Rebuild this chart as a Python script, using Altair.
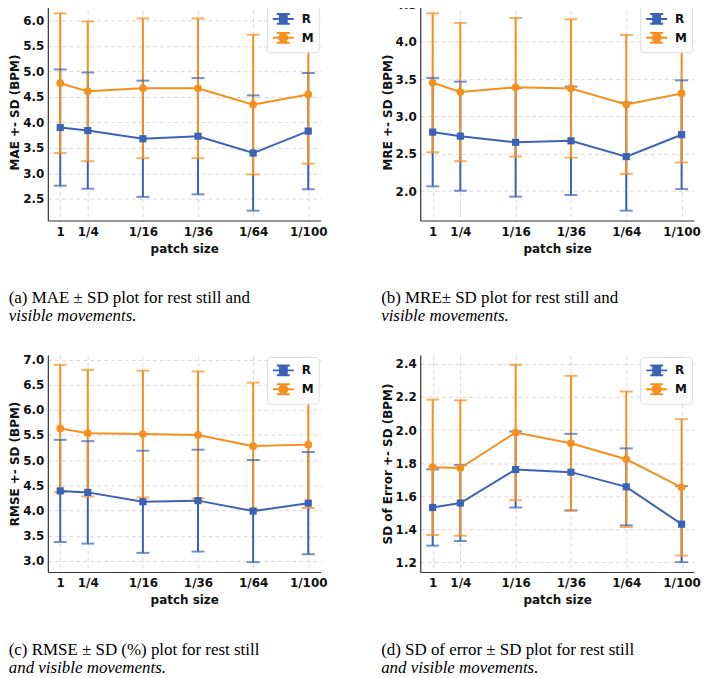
import altair as alt
import pandas as pd

# ---------------- data ----------------
PATCH_LABELS = ["1", "1/4", "1/16", "1/36", "1/64", "1/100"]
PATCH_SIDE = [1, 2, 4, 6, 8, 10]
SERIES = ["R", "M"]
COLORS = ["#3b62b6", "#f5901f"]

MAE_R_MEAN = [3.90, 3.84, 3.68, 3.73, 3.40, 3.83]
MAE_R_SD = [1.14, 1.14, 1.14, 1.14, 1.13, 1.14]
MAE_M_MEAN = [4.77, 4.61, 4.67, 4.67, 4.35, 4.55]
MAE_M_SD = [1.37, 1.37, 1.37, 1.37, 1.37, 1.36]

MRE_R_MEAN = [2.79, 2.735, 2.653, 2.673, 2.462, 2.755]
MRE_R_SD = [0.726, 0.73, 0.728, 0.726, 0.724, 0.728]
MRE_M_MEAN = [3.45, 3.326, 3.39, 3.374, 3.161, 3.308]
MRE_M_SD = [0.93, 0.926, 0.928, 0.926, 0.93, 0.926]

RMSE_R_MEAN = [4.389, 4.36, 4.173, 4.196, 3.989, 4.146]
RMSE_R_SD = [1.015, 1.018, 1.015, 1.012, 1.015, 1.015]
RMSE_M_MEAN = [5.63, 5.537, 5.519, 5.502, 5.279, 5.309]
RMSE_M_SD = [1.265, 1.259, 1.259, 1.261, 1.261, 1.258]

SDE_R_MEAN = [1.531, 1.558, 1.761, 1.745, 1.656, 1.43]
SDE_R_SD = [0.231, 0.23, 0.23, 0.232, 0.233, 0.23]
SDE_M_MEAN = [1.774, 1.77, 1.985, 1.92, 1.823, 1.653]
SDE_M_SD = [0.41, 0.41, 0.41, 0.408, 0.41, 0.413]

MAE_TICKS = [2.5, 3.0, 3.5, 4.0, 4.5, 5.0, 5.5, 6.0]
MRE_TICKS = [2.0, 2.5, 3.0, 3.5, 4.0, 4.5]
RMSE_TICKS = [3.0, 3.5, 4.0, 4.5, 5.0, 5.5, 6.0, 6.5, 7.0]
SDE_TICKS = [1.2, 1.4, 1.6, 1.8, 2.0, 2.2, 2.4]

CAPTIONS = [
    ("(a) MAE \u00b1 SD plot for rest still and", "visible movements."),
    ("(b) MRE\u00b1 SD plot for rest still and", "visible movements."),
    ("(c) RMSE \u00b1 SD (%) plot for rest still", "and visible movements."),
    ("(d) SD of error \u00b1 SD plot for rest still", "and visible movements."),
]
Y_TITLES = ["MAE +- SD (BPM)", "MRE +- SD (BPM)", "RMSE +- SD (BPM)", "SD of Error +- SD (BPM)"]

# legend glyphs (errorbar-like), unit coordinates
PATH_R = ("M-1.4,0H1.4M0,-0.66V0.66M-0.87,-0.66H0.87M-0.87,0.66H0.87"
          "M-0.46,-0.46H0.46V0.46H-0.46Z")
PATH_M = ("M-1.4,0H1.4M0,-0.66V0.66M-0.87,-0.66H0.87M-0.87,0.66H0.87"
          "M0.53,0A0.53,0.53,0,1,1,-0.53,0A0.53,0.53,0,1,1,0.53,0Z")

FONT = "DejaVu Sans"
SERIF = "Liberation Serif"


def make_df(r_mean, r_sd, m_mean, m_sd):
    rows = []
    for s, means, sds in (("R", r_mean, r_sd), ("M", m_mean, m_sd)):
        for xv, mv, sv in zip(PATCH_SIDE, means, sds):
            rows.append({"x": xv, "series": s, "mean": mv, "lo": mv - sv, "hi": mv + sv})
    return pd.DataFrame(rows)


label_expr = " : ".join(
    f"datum.value == {v} ? '{l}'" for v, l in zip(PATCH_SIDE, PATCH_LABELS)
) + " : ''"

xmin, xmax = min(PATCH_SIDE), max(PATCH_SIDE)
xpad = 0.05 * (xmax - xmin)
X_DOMAIN = [xmin - xpad, xmax + xpad]

INDEP = dict(fill="independent", stroke="independent", shape="independent")


def panel(df, ticks, ytitle, caption, width, offset):
    lo, hi = df["lo"].min(), df["hi"].max()
    pad = 0.05 * (hi - lo)
    ydom = [lo - pad, hi + pad]
    xenc = alt.X("x:Q", scale=alt.Scale(domain=X_DOMAIN, nice=False, zero=False),
                 axis=alt.Axis(values=PATCH_SIDE, labelExpr=label_expr, title="patch size"))
    yscale = alt.Scale(domain=ydom, nice=False, zero=False)
    yaxis = alt.Axis(values=ticks, format=".1f", title=ytitle)

    def Y(field):
        return alt.Y(field, scale=yscale, axis=yaxis)

    rules, caps, lines, pts = [], [], [], []
    for s, col in zip(SERIES, COLORS):
        b = alt.Chart(df).transform_filter(alt.datum.series == s)
        rules.append(b.mark_rule(strokeWidth=2, color=col).encode(x=xenc, y=Y("lo:Q"), y2="hi:Q"))
        caps.append(b.mark_tick(orient="horizontal", size=13, thickness=2, color=col).encode(
            x=xenc, y=Y("lo:Q")))
        caps.append(b.mark_tick(orient="horizontal", size=13, thickness=2, color=col).encode(
            x=xenc, y=Y("hi:Q")))
        lines.append(b.mark_line(strokeWidth=2, color=col).encode(x=xenc, y=Y("mean:Q")))
        if s == "R":
            pts.append(b.mark_square(size=52, opacity=1, color=col).encode(x=xenc, y=Y("mean:Q")))
        else:
            pts.append(b.mark_circle(size=60, opacity=1, color=col).encode(x=xenc, y=Y("mean:Q")))

    # invisible layer that only carries the legend (errorbar-style glyphs)
    leg = alt.Chart(df).mark_point(filled=True, opacity=0, strokeWidth=2, size=1).encode(
        x=xenc, y=Y("mean:Q"),
        shape=alt.Shape("series:N", scale=alt.Scale(domain=SERIES, range=[PATH_R, PATH_M]),
                        legend=alt.Legend(title=None)),
        fill=alt.Fill("series:N", scale=alt.Scale(domain=SERIES, range=COLORS),
                      legend=alt.Legend(title=None)),
        stroke=alt.Stroke("series:N", scale=alt.Scale(domain=SERIES, range=COLORS),
                          legend=alt.Legend(title=None)),
    )
    return alt.layer(*rules, *caps, *lines, *pts, leg).properties(
        width=width, height=218,
        title=alt.TitleParams(
            text=caption[0], subtitle=caption[1], orient="bottom", anchor="start",
            font=SERIF, fontSize=17, fontWeight="normal", color="#000",
            subtitleFont=SERIF, subtitleFontSize=17, subtitleFontStyle="italic",
            subtitleColor="#000", subtitlePadding=1, offset=offset,
        ),
    )


pa = panel(make_df(MAE_R_MEAN, MAE_R_SD, MAE_M_MEAN, MAE_M_SD), MAE_TICKS, Y_TITLES[0], CAPTIONS[0], 274, 36)
pb = panel(make_df(MRE_R_MEAN, MRE_R_SD, MRE_M_MEAN, MRE_M_SD), MRE_TICKS, Y_TITLES[1], CAPTIONS[1], 275, 36)
pc = panel(make_df(RMSE_R_MEAN, RMSE_R_SD, RMSE_M_MEAN, RMSE_M_SD), RMSE_TICKS, Y_TITLES[2], CAPTIONS[2], 274, 36)
pd_ = panel(make_df(SDE_R_MEAN, SDE_R_SD, SDE_M_MEAN, SDE_M_SD), SDE_TICKS, Y_TITLES[3], CAPTIONS[3], 275, 36)

chart = alt.vconcat(
    alt.hconcat(pa, pb, spacing=53).resolve_scale(**INDEP).resolve_legend(**INDEP),
    alt.hconcat(pc, pd_, spacing=53).resolve_scale(**INDEP).resolve_legend(**INDEP),
    spacing=29,
).resolve_scale(**INDEP).resolve_legend(**INDEP).properties(
    padding={"left": 0, "top": -12, "right": 0, "bottom": 0},
    background="white",
).configure_view(stroke=None).configure_axis(
    labelFont=FONT, labelFontSize=12, labelFontWeight="bold", labelColor="#111",
    titleFont=FONT, titleFontSize=12, titleFontWeight="bold", titleColor="#111",
    grid=True, gridColor="#cfcfcf", gridDash=[4, 3], gridWidth=0.8,
    domainColor="#333", domainWidth=1.2, ticks=False, labelPadding=6,
).configure_axisX(titlePadding=6).configure_axisY(titlePadding=1, labelPadding=4).configure_legend(
    orient="top-right", offset=2, padding=5, fillColor="white", strokeColor="#dddddd",
    cornerRadius=3, symbolSize=225, symbolStrokeWidth=2, symbolOpacity=1, symbolOffset=3,
    labelFont=FONT, labelFontSize=12,
    labelFontWeight="bold", labelColor="#111", rowPadding=0, labelOffset=10,
)

chart.save("out.html", embed_options={"renderer": "svg", "actions": False})
